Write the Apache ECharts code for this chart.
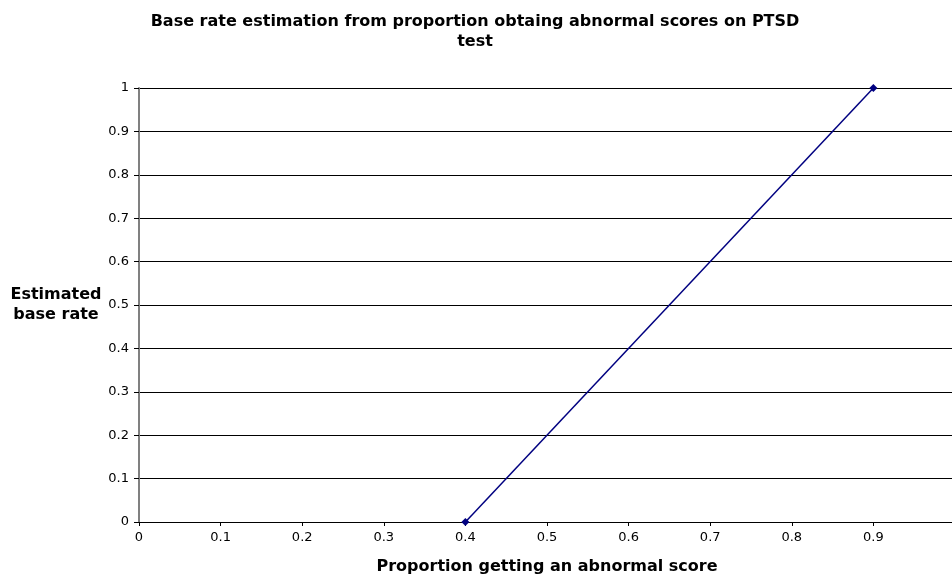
<!DOCTYPE html>
<html><head><meta charset="utf-8">
<script src="https://cdn.jsdelivr.net/npm/echarts@6/dist/echarts.min.js"></script>
<style>html,body{margin:0;padding:0;background:#fff}#c{width:952px;height:579px}</style>
</head><body><div id="c"></div>
<script>
const xValues = [0.4, 0.9];
const yValues = [0, 1];
const xTicks = [0, 0.1, 0.2, 0.3, 0.4, 0.5, 0.6, 0.7, 0.8, 0.9, 1];
const yTicks = [0, 0.1, 0.2, 0.3, 0.4, 0.5, 0.6, 0.7, 0.8, 0.9, 1];
const titleText = 'Base rate estimation from proportion obtaing abnormal scores on PTSD\ntest';
const xName = 'Proportion getting an abnormal score';
const yName = 'Estimated\nbase rate';

const chart = echarts.init(document.getElementById('c'), null, {renderer: 'canvas'});
const font = 'DejaVu Sans, Verdana, sans-serif';
chart.setOption({
  animation: false,
  backgroundColor: '#ffffff',
  title: {
    text: titleText, left: 470, top: 7, textAlign: 'center',
    textStyle: {fontFamily: font, fontSize: 16, fontWeight: 'bold', color: '#000', lineHeight: 20}
  },
  grid: {left: 139, right: -3, top: 88, bottom: 57, containLabel: false, outerBoundsMode: 'none'},
  xAxis: {
    type: 'value', min: 0, max: 1, interval: 0.1,
    name: xName, nameLocation: 'middle', nameGap: 37,
    nameTextStyle: {fontFamily: font, fontSize: 16, fontWeight: 'bold', color: '#000'},
    axisLine: {show: true, lineStyle: {color: '#000', width: 1}},
    axisTick: {show: true, length: 4, lineStyle: {color: '#000'}},
    axisLabel: {fontFamily: font, fontSize: 13, color: '#000', margin: 9, showMaxLabel: false,
      formatter: v => String(parseFloat(v.toFixed(1)))},
    splitLine: {show: false}
  },
  yAxis: {
    type: 'value', min: 0, max: 1, interval: 0.1,
    name: yName, nameLocation: 'middle', nameGap: 83, nameRotate: 0,
    nameTextStyle: {fontFamily: font, fontSize: 16, fontWeight: 'bold', color: '#000', lineHeight: 20,
      align: 'center', padding: [6, 0, 0, 0]},
    axisLine: {show: true, lineStyle: {color: '#808080', width: 2}},
    axisTick: {show: true, length: 5, lineStyle: {color: '#000'}},
    axisLabel: {fontFamily: font, fontSize: 13, color: '#000', margin: 10,
      formatter: v => String(parseFloat(v.toFixed(1)))},
    splitLine: {show: true, lineStyle: {color: '#000', width: 1}}
  },
  series: [{
    type: 'line',
    data: xValues.map((x, i) => [x, yValues[i]]),
    lineStyle: {color: '#000080', width: 1.5},
    itemStyle: {color: '#000080'},
    symbol: 'diamond', symbolSize: 8,
    z: 5
  }]
});
</script></body></html>
